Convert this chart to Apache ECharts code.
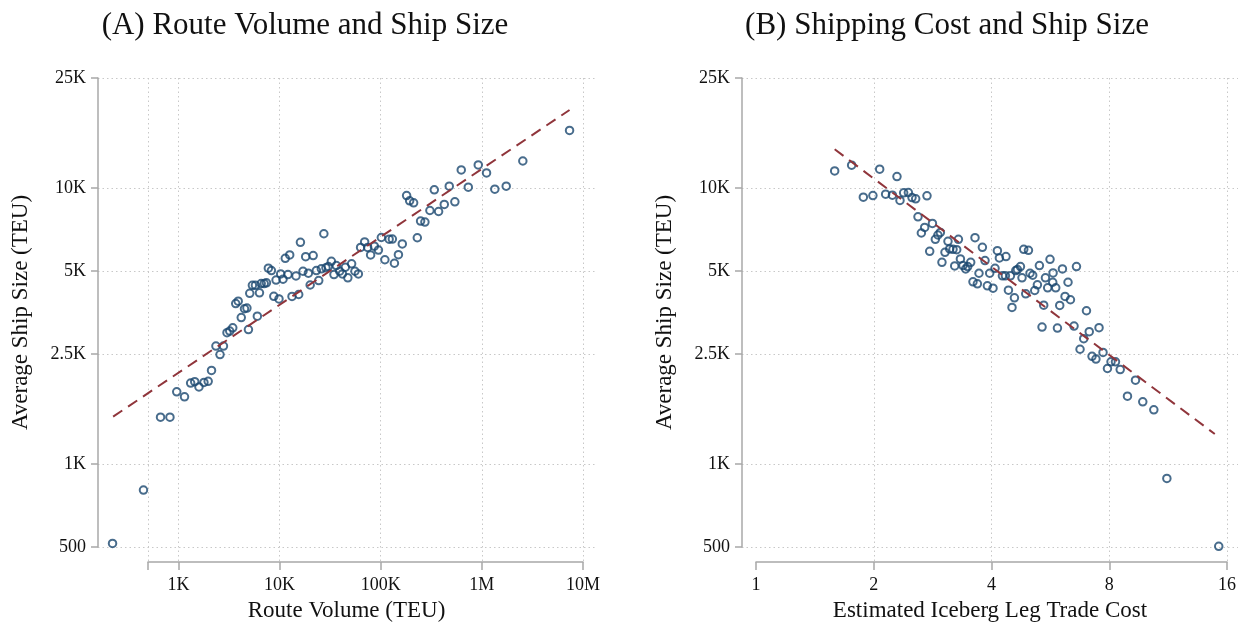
<!DOCTYPE html>
<html>
<head>
<meta charset="utf-8">
<script src="https://cdn.jsdelivr.net/npm/echarts@6/dist/echarts.min.js"></script>
<style>
html, body { margin: 0; padding: 0; background: #fff; }
#main { width: 1245px; height: 627px; }
</style>
</head>
<body>
<div id="main"></div>
<script>
// (A) route volume (TEU) vs average ship size (TEU), binned means
var volume = [223, 451, 665, 824, 962, 1148, 1320, 1449, 1595, 1787,
    1968, 2123, 2348, 2576, 2786, 3020, 3214, 3443, 3683, 3899,
    4178, 4498, 4753, 4920, 5070, 5383, 5768, 6026, 6324, 6577,
    7047, 7413, 7745, 8298, 8770, 9230, 9862, 10250, 10810, 11380,
    12100, 12590, 13270, 14530, 15450, 16070, 17040, 18110, 19260, 20060,
    21480, 23100, 24380, 25880, 27400, 28730, 30340, 32500, 34500, 36400,
    39260, 41780, 44670, 47300, 51550, 55590, 60100, 63240, 69340, 74300,
    79430, 86470, 94900, 101400, 109900, 121100, 130300, 136600, 149600, 163400,
    180300, 193200, 211500, 230000, 247800, 273500, 306400, 338600, 373400, 424900,
    476000, 540800, 625500, 734100, 921300, 1112000, 1343000, 1741000, 2541000, 7362000];
var volumeShip = [515, 804, 1476, 1476, 1824, 1750, 1963, 1985, 1901, 1973,
    1991, 2180, 2673, 2489, 2672, 2988, 3028, 3110, 3809, 3884,
    3388, 3648, 3670, 3066, 4150, 4436, 4436, 3428, 4168, 4500,
    4500, 4527, 5115, 5016, 4048, 4635, 3958, 4878, 4667, 5555,
    4851, 5717, 4041, 4797, 4108, 6350, 4987, 5634, 4906, 4447,
    5686, 5016, 4615, 5089, 6820, 5131, 5188, 5420, 4851, 5228,
    4987, 4878, 5157, 4721, 5304, 4987, 4878, 6085, 6371, 6085,
    5715, 6146, 5950, 6610, 5489, 6517, 6526, 5331, 5729, 6265,
    9380, 8976, 8827, 6596, 7583, 7517, 8279, 9835, 8210, 8705,
    10140, 8902, 11610, 10060, 12110, 11330, 9890, 10140, 12510, 16150];
var volumeFitX = [226, 7362000];
var volumeFitY = [1483, 19150];

// (B) estimated iceberg trade cost vs average ship size (TEU)
var cost = [1.589, 1.756, 2.071, 2.293, 1.881, 1.990, 2.145, 2.232, 2.334, 2.385,
    2.452, 2.505, 2.560, 2.736, 2.595, 2.699, 2.825, 2.647, 2.874, 2.918,
    2.960, 2.780, 3.096, 3.042, 3.127, 3.189, 3.259, 3.292, 2.988, 3.221,
    3.331, 3.382, 3.436, 3.477, 3.539, 3.630, 3.791, 3.850, 3.587, 3.681,
    3.716, 3.904, 3.958, 4.036, 4.084, 4.141, 4.190, 4.356, 4.266, 4.341,
    4.419, 4.471, 4.513, 4.578, 4.614, 4.659, 4.743, 4.787, 4.836, 4.972,
    4.893, 5.018, 5.098, 5.159, 5.241, 5.303, 5.439, 5.495, 5.568, 5.645,
    5.736, 5.747, 5.838, 5.977, 6.073, 6.167, 6.276, 6.366, 6.596, 5.386,
    5.897, 6.502, 6.996, 7.533, 7.111, 6.884, 6.736, 7.229, 7.397, 7.712,
    7.916, 8.084, 8.299, 8.533, 9.336, 8.906, 9.745, 10.40, 11.23, 15.24];
var costShip = [11520, 12080, 11680, 10990, 9255, 9380, 9490, 9410, 9000, 9593,
    9616, 9225, 9128, 9357, 7856, 7189, 7431, 6862, 6508, 6749,
    6897, 5888, 6400, 5841, 6007, 5988, 5973, 6508, 5374, 5215,
    5528, 5229, 5087, 5186, 5374, 6600, 6088, 5451, 4566, 4490,
    4905, 4416, 4905, 4330, 5112, 5923, 5574, 5635, 4800, 4800,
    4258, 4800, 3688, 3997, 5015, 5058, 5186, 4721, 5988, 5938,
    4132, 4905, 4824, 4248, 4453, 5229, 3759, 4721, 4344, 5510,
    4550, 4920, 4344, 3750, 5087, 4041, 4550, 3932, 5186, 3131,
    3105, 3157, 3588, 3115, 3013, 2843, 2602, 2454, 2398, 2533,
    2216, 2344, 2344, 2197, 2010, 1760, 1679, 1570, 886, 503];
var costFitX = [1.589, 14.89];
var costFitY = [13795, 1283];

// tick marks
var yTicks = [500, 1000, 2500, 5000, 10000, 25000];
var yTickLabels = ['500', '1K', '2.5K', '5K', '10K', '25K'];
var volTicks = [500, 1000, 10000, 100000, 1000000, 10000000];
var volTickLabels = ['', '1K', '10K', '100K', '1M', '10M'];
var costTicks = [1, 2, 4, 8, 16];
var costTickLabels = ['1', '2', '4', '8', '16'];

var myChart = echarts.init(document.getElementById('main'));

var serif = 'Liberation Serif';
var navy = '#1a476f';
var maroon = '#90353b';
var axisGray = '#a8a8a8';
var gridGray = '#c8c8c8';

// plot regions (px); Stata draws the x axis a bit below and inside the plot region
var plotTop = 78, plotBottom = 548, xAxisY = 562;
var A = {left: 98, right: 595, axLeft: 148, axRight: 583};
var B = {left: 742, right: 1238, axLeft: 756, axRight: 1227};

var decPx = (A.axRight - A.axLeft) / Math.log10(1e7 / 500);
var volMin = 500 / Math.pow(10, (A.axLeft - A.left) / decPx);
var volMax = 1e7 * Math.pow(10, (A.right - A.axRight) / decPx);
var octPx = (B.axRight - B.axLeft) / 4;
var costMin = 1 / Math.pow(2, (B.axLeft - B.left) / octPx);
var costMax = 16 * Math.pow(2, (B.right - B.axRight) / octPx);

function pairs(xs, ys) {
    return xs.map(function (x, i) { return [x, ys[i]]; });
}

function labelFor(ticks, labels) {
    return function (v) {
        for (var i = 0; i < ticks.length; i++) {
            if (Math.abs(v - ticks[i]) / ticks[i] < 1e-6) return labels[i];
        }
        return '';
    };
}

var lineGray = {color: axisGray, width: 1.5};
var dotted = {show: true, lineStyle: {color: gridGray, type: [1.5, 3], width: 1}};

function shipAxis(gridIndex) {
    return {
        type: 'log', logBase: 10, gridIndex: gridIndex, min: 500, max: 25000,
        name: 'Average Ship Size (TEU)', nameLocation: 'middle', nameRotate: 90, nameGap: 66,
        nameTextStyle: {fontFamily: serif, fontSize: 23, color: '#111'},
        axisLine: {show: true, lineStyle: lineGray},
        axisTick: {show: true, length: 7, customValues: yTicks, lineStyle: lineGray},
        axisLabel: {customValues: yTicks, formatter: labelFor(yTicks, yTickLabels),
            fontFamily: serif, fontSize: 18, color: '#111', margin: 12},
        splitLine: dotted
    };
}

function nameOnlyX(gridIndex, min, max, base, name) {
    return {
        type: 'log', logBase: base, gridIndex: gridIndex, min: min, max: max,
        name: name, nameLocation: 'middle', nameGap: 52,
        nameTextStyle: {fontFamily: serif, fontSize: 23, color: '#111'},
        axisLine: {show: false}, axisTick: {show: false},
        axisLabel: {show: false}, splitLine: {show: false}
    };
}

function tickedX(gridIndex, min, max, base, ticks, labels, showMinLine) {
    return {
        type: 'log', logBase: base, gridIndex: gridIndex, min: min, max: max,
        axisLine: {show: true, lineStyle: lineGray},
        axisTick: {show: true, length: 8, customValues: ticks, lineStyle: lineGray},
        axisLabel: {customValues: ticks, formatter: labelFor(ticks, labels),
            fontFamily: serif, fontSize: 18, color: '#111', margin: 14},
        splitLine: {show: true, showMinLine: showMinLine, lineStyle: dotted.lineStyle}
    };
}

function hiddenY(gridIndex) {
    return {type: 'value', gridIndex: gridIndex, show: false};
}

var titleStyle = {fontFamily: serif, fontSize: 31, fontWeight: 'normal', color: '#111'};

var option = {
    animation: false,
    backgroundColor: '#fff',
    title: [
        {text: '(A) Route Volume and Ship Size', left: 300, top: 5, textAlign: 'center', textStyle: titleStyle},
        {text: '(B) Shipping Cost and Ship Size', left: 942, top: 5, textAlign: 'center', textStyle: titleStyle}
    ],
    grid: [
        {left: A.left, top: plotTop, width: A.right - A.left, height: plotBottom - plotTop},
        {left: A.axLeft, top: plotTop, width: A.axRight - A.axLeft, height: xAxisY - plotTop},
        {left: B.left, top: plotTop, width: B.right - B.left, height: plotBottom - plotTop},
        {left: B.axLeft, top: plotTop, width: B.axRight - B.axLeft, height: xAxisY - plotTop}
    ],
    xAxis: [
        nameOnlyX(0, volMin, volMax, 10, 'Route Volume (TEU)'),
        tickedX(1, 500, 1e7, 10, volTicks, volTickLabels, true),
        nameOnlyX(2, costMin, costMax, 2, 'Estimated Iceberg Leg Trade Cost'),
        tickedX(3, 1, 16, 2, costTicks, costTickLabels, false)
    ],
    yAxis: [shipAxis(0), hiddenY(1), shipAxis(2), hiddenY(3)],
    series: [
        {
            type: 'scatter', xAxisIndex: 0, yAxisIndex: 0,
            data: pairs(volume, volumeShip),
            symbol: 'circle', symbolSize: 7.5, z: 2,
            itemStyle: {color: 'rgba(255,255,255,0)', borderColor: navy, borderWidth: 2}
        },
        {
            type: 'line', xAxisIndex: 0, yAxisIndex: 0,
            data: pairs(volumeFitX, volumeFitY),
            symbol: 'none', z: 3,
            lineStyle: {color: maroon, width: 2, type: [11, 7]}
        },
        {
            type: 'scatter', xAxisIndex: 2, yAxisIndex: 2,
            data: pairs(cost, costShip),
            symbol: 'circle', symbolSize: 7.5, z: 2,
            itemStyle: {color: 'rgba(255,255,255,0)', borderColor: navy, borderWidth: 2}
        },
        {
            type: 'line', xAxisIndex: 2, yAxisIndex: 2,
            data: pairs(costFitX, costFitY),
            symbol: 'none', z: 3,
            lineStyle: {color: maroon, width: 2, type: [11, 7]}
        }
    ]
};
myChart.setOption(option);
</script>
</body>
</html>
